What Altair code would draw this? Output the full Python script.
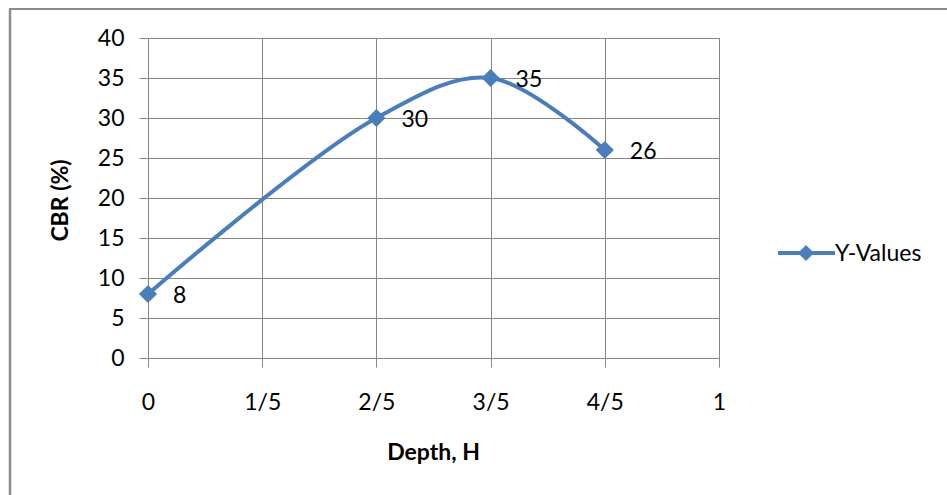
import altair as alt
import pandas as pd

depth = [0, 0.4, 0.6, 0.8]
cbr = [8, 30, 35, 26]
point_labels = ["8", "30", "35", "26"]
x_tick_values = [0, 0.2, 0.4, 0.6, 0.8, 1.0]
x_tick_labels = ["0", "1/5", "2/5", "3/5", "4/5", "1"]
y_tick_values = [0, 5, 10, 15, 20, 25, 30, 35, 40]
series_name = "Y-Values"
x_title = "Depth, H"
y_title = "CBR (%)"

FONT = "Lato"
BLUE = "#4a7ebb"
GRID = "#868686"

df = pd.DataFrame({"depth": depth, "cbr": cbr, "label": point_labels})

label_expr = " : ".join(
    f"abs(datum.value - {v}) < 0.001 ? '{t}'" for v, t in zip(x_tick_values, x_tick_labels)
) + " : ''"

x_axis = alt.Axis(
    values=x_tick_values, labelExpr=label_expr, title=x_title,
    grid=True, gridColor=GRID, gridWidth=1,
    domainColor=GRID, tickColor=GRID, tickSize=9,
    labelFont=FONT, labelFontSize=23, labelColor="#000", labelPadding=24,
    labelOverlap=False, labelFlush=False,
    titleFont=FONT, titleFontSize=23, titleFontWeight="bold", titleColor="#000",
    titleX=285, titleY=94, titleBaseline="middle",
)
y_axis = alt.Axis(
    values=y_tick_values, title=y_title,
    grid=True, gridColor=GRID, gridWidth=1,
    domainColor=GRID, tickColor=GRID, tickSize=9,
    labelFont=FONT, labelFontSize=23, labelColor="#000", labelPadding=15,
    labelOverlap=False, labelFlush=False,
    titleFont=FONT, titleFontSize=23, titleFontWeight="bold", titleColor="#000",
    titleX=-88, titleY=162, titleBaseline="middle", titleAngle=-90, titleAlign="center",
)
x_enc = alt.X("depth:Q", scale=alt.Scale(domain=[0, 1], nice=False, zero=False), axis=x_axis)
y_enc = alt.Y("cbr:Q", scale=alt.Scale(domain=[0, 40], nice=False), axis=y_axis)

line = alt.Chart(df).mark_line(
    interpolate="catmull-rom", color=BLUE, strokeWidth=4
).encode(x=x_enc, y=y_enc)

points = alt.Chart(df).mark_point(
    shape="diamond", filled=True, color=BLUE, size=330, opacity=1
).encode(x=x_enc, y=y_enc)

labels = alt.Chart(df).mark_text(
    align="left", baseline="middle", dx=25, dy=2, font=FONT, fontSize=23, color="#000"
).encode(x=x_enc, y=y_enc, text="label:N")

leg_df = pd.DataFrame({"name": [series_name]})
leg_line = alt.Chart(leg_df).mark_rule(color=BLUE, strokeWidth=4).encode(
    x=alt.value(630), x2=alt.value(687), y=alt.value(215)
)
leg_pt = alt.Chart(leg_df).mark_point(
    shape="diamond", filled=True, color=BLUE, size=260, opacity=1
).encode(x=alt.value(658), y=alt.value(215))
leg_txt = alt.Chart(leg_df).mark_text(
    align="left", baseline="middle", font=FONT, fontSize=23, color="#000"
).encode(x=alt.value(687), y=alt.value(216), text="name:N")

border_l = alt.Chart(leg_df).mark_rule(color="#8c8c8c", strokeWidth=2.5).encode(
    x=alt.value(-138), y=alt.value(-29), y2=alt.value(460)
)
border_t = alt.Chart(leg_df).mark_rule(color="#8c8c8c", strokeWidth=2).encode(
    x=alt.value(-139), x2=alt.value(800), y=alt.value(-29)
)

chart = alt.layer(
    line, points, labels, leg_line, leg_pt, leg_txt, border_l, border_t
).properties(
    width=571, height=320,
    autosize=alt.AutoSizeParams(type="none"),
    padding={"left": 148, "top": 38, "right": 228, "bottom": 137},
    background="white",
).configure_view(stroke=GRID, strokeWidth=1)

chart.save("out.html", embed_options={"renderer": "svg", "actions": False})
